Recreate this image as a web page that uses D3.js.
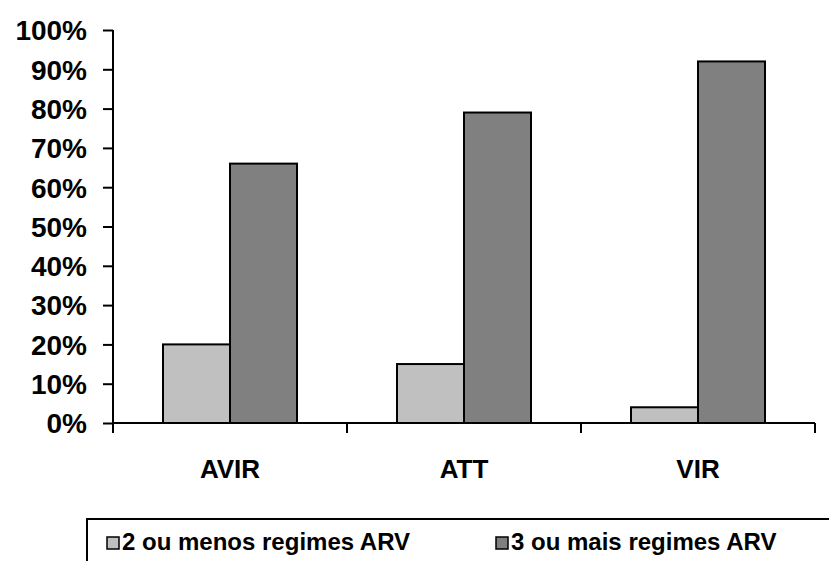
<!DOCTYPE html>
<html>
<head>
<meta charset="utf-8">
<script src="https://cdn.jsdelivr.net/npm/d3@7/dist/d3.min.js"></script>
<style>
  html, body { margin: 0; padding: 0; background: #fff; }
  svg { display: block; font-family: "Liberation Sans", Arial, sans-serif; font-weight: bold; }
</style>
</head>
<body>
<svg id="chart" width="829" height="561"></svg>
<script>
// Share of patients by number of ARV regimens, per group
const categories = ["AVIR", "ATT", "VIR"];
const seriesNames = ["2 ou menos regimes ARV", "3 ou mais regimes ARV"];
const twoOrFewer = [0.20, 0.15, 0.04];
const threeOrMore = [0.66, 0.79, 0.92];
const yTicks = [0, 0.1, 0.2, 0.3, 0.4, 0.5, 0.6, 0.7, 0.8, 0.9, 1.0];
const seriesColors = ["#C0C0C0", "#808080"];

const svg = d3.select("#chart");
const plot = { left: 113, right: 815, top: 30, bottom: 423 };

const y = d3.scaleLinear().domain([0, 1]).range([plot.bottom, plot.top]);

// one band per group; 100px of gap is shared between neighbouring groups
const step = (plot.right - plot.left) / categories.length;
const gapFrac = 100 / step;
const x0 = d3.scaleBand().domain(categories)
  .range([plot.left, plot.right])
  .paddingInner(gapFrac).paddingOuter(gapFrac / 2);
const x1 = d3.scaleBand().domain(seriesNames).range([0, x0.bandwidth()]);

// category boundary ticks
const edge = d3.scaleLinear().domain([0, categories.length]).range([plot.left, plot.right]);

const rows = categories.map((c, i) => ({ cat: c, vals: [twoOrFewer[i], threeOrMore[i]] }));

// bars
const groups = svg.append("g").selectAll("g").data(rows).join("g")
  .attr("transform", d => `translate(${x0(d.cat)},0)`);
groups.selectAll("rect").data(d => d.vals.map((v, j) => ({ v, s: seriesNames[j], j })))
  .join("rect")
  .attr("x", d => x1(d.s))
  .attr("width", x1.bandwidth())
  .attr("y", d => y(d.v))
  .attr("height", d => y(0) - y(d.v))
  .attr("fill", d => seriesColors[d.j])
  .attr("stroke", "#000")
  .attr("stroke-width", 2);

// y axis
const yAxis = d3.axisLeft(y).tickValues(yTicks).tickFormat(d3.format(".0%"))
  .tickSize(10).tickPadding(16);
const gy = svg.append("g").attr("transform", `translate(${plot.left},0)`).call(yAxis);
gy.select(".domain").attr("stroke", "#000").attr("stroke-width", 2)
  .attr("d", `M0,${plot.top}V${plot.bottom}`);
gy.selectAll(".tick line").attr("stroke", "#000").attr("stroke-width", 2);
gy.selectAll(".tick text").attr("font-size", 28).attr("font-weight", "bold")
  .attr("font-family", "Liberation Sans, Arial, sans-serif").attr("fill", "#000")
  .attr("dy", "0.35em");

// x axis: line with boundary ticks, labels centred on each group
const gx = svg.append("g");
gx.append("line").attr("x1", plot.left).attr("x2", plot.right)
  .attr("y1", y(0)).attr("y2", y(0)).attr("stroke", "#000").attr("stroke-width", 2);
gx.selectAll(".edge").data(d3.range(categories.length + 1)).join("line")
  .attr("class", "edge")
  .attr("x1", d => edge(d)).attr("x2", d => edge(d))
  .attr("y1", y(0)).attr("y2", y(0) + 10)
  .attr("stroke", "#000").attr("stroke-width", 2);
gx.selectAll(".lab").data(categories).join("text")
  .attr("class", "lab")
  .attr("x", d => x0(d) + x0.bandwidth() / 2)
  .attr("y", 478)
  .attr("text-anchor", "middle")
  .attr("font-size", 26)
  .attr("fill", "#000")
  .text(d => d);

// legend frame (open at right and bottom)
const lg = svg.append("g");
lg.append("path").attr("d", "M87,561V519H829")
  .attr("fill", "none").attr("stroke", "#000").attr("stroke-width", 2);
const legendX = [107, 496];
const items = lg.selectAll(".item").data(seriesNames).join("g")
  .attr("class", "item")
  .attr("transform", (d, i) => `translate(${legendX[i]},537)`);
items.append("rect").attr("width", 12).attr("height", 12)
  .attr("fill", (d, i) => seriesColors[i]).attr("stroke", "#000").attr("stroke-width", 1.5);
items.append("text").attr("x", 15).attr("y", 13)
  .attr("font-size", 24).attr("fill", "#000").text(d => d);
</script>
</body>
</html>
